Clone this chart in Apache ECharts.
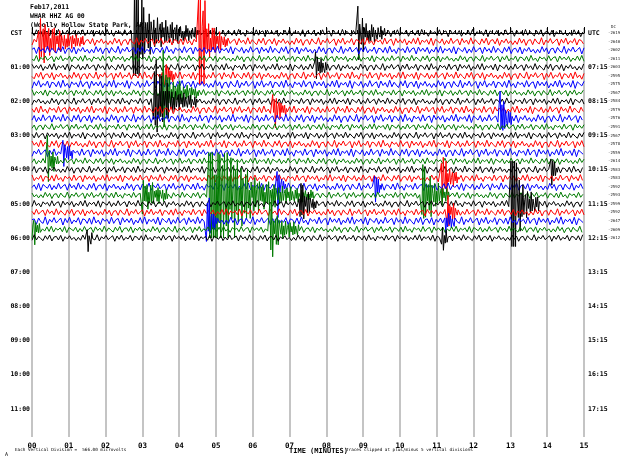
<!DOCTYPE html>
<html>
<head>
<meta charset="utf-8">
<script src="https://cdn.jsdelivr.net/npm/echarts@6/dist/echarts.min.js"></script>
<style>
html, body { margin: 0; padding: 0; background: #fff; }
#main { width: 630px; height: 461px; }
</style>
</head>
<body>
<div id="main"></div>
<script>
// tick labels
var minuteLabels = ['00', '01', '02', '03', '04', '05', '06', '07', '08', '09', '10', '11', '12', '13', '14', '15'];
var cstLabels = ['CST  ', '01:00', '02:00', '03:00', '04:00', '05:00', '06:00', '07:00', '08:00', '09:00', '10:00', '11:00'];
var utcLabels = ['UTC', '07:15', '08:15', '09:15', '10:15', '11:15', '12:15', '13:15', '14:15', '15:15', '16:15', '17:15'];
var levelLabels = ['-2619', '-2640', '-2602', '-2611', '-2603', '-2595', '-2575', '-2567', '-2584', '-2579',
    '-2576', '-2591', '-2567', '-2578', '-2559', '-2614', '-2583', '-2583', '-2592', '-2593',
    '-2599', '-2592', '-2647', '-2609', '-2612'];

// background noise level of each trace (vertical divisions)
var traceNoise = [0.42, 0.45, 0.45, 0.38, 0.42, 0.45, 0.48, 0.38, 0.4, 0.45, 0.48, 0.38, 0.4,
    0.45, 0.48, 0.38, 0.42, 0.42, 0.45, 0.38, 0.4, 0.42, 0.48, 0.38, 0.38];

// hand typed wiggle shape, reused along each trace
var noisePattern = [0.2, -0.7, 0.9, -0.4, 0.6, -1, 0.3, 0.5, -0.8, 0.7, -0.2, -0.6, 1, -0.9, 0.4, -0.3, 0.8, -0.5,
    0.1, 0.7, -1, 0.6, -0.4, 0.9, -0.7, 0.2, -0.3, 0.8, -0.9, 0.5, 0.3, -0.6, 0.7, -0.8, 1, -0.5, 0.2, -0.9,
    0.6, -0.1, 0.4, -0.7, 0.9, -0.6, 0.3, 0.6, -1, 0.8, -0.3, 0.5, -0.4, 0.7, -0.9, 0.2, -0.5, 0.8, -0.6, 1,
    -0.8, 0.4, -0.2, 0.5, -0.7, 0.9, -1, 0.6, 0.1, -0.4, 0.7, -0.8, 0.3, -0.6, 0.9, -0.5, 0.2, 0.6, -0.9, 0.8,
    -0.3, 0.4, -0.7, 1, -0.6, 0.5, -0.2, -0.8, 0.7, -0.4, 0.9, -0.9, 0.3, 0.5, -0.6, 0.8, -1, 0.4, -0.3, 0.7,
    -0.5, 0.2, -0.8];

// events: trace row, start minute, envelope (divisions, one value per 0.1 minute)
var events = [
    [0, 2.72, [40, 12, 5, 3, 2.5, 2.2, 2, 1.8, 1.6, 1.5, 1.4, 1.3, 1.2, 1.1, 1, 0.9, 0.8, 0.7]],
    [0, 8.82, [3.5, 2.2, 1.6, 1.3, 1.1, 0.9, 0.8, 0.7]],
    [1, 0.18, [3, 2.5, 2.2, 1.8, 1.6, 1.4, 1.2, 1.1, 1, 0.9, 0.8, 0.7]],
    [1, 4.52, [40, 6, 3, 2, 1.6, 1.3, 1, 0.8]],
    [7, 3.52, [8, 3, 2, 1.6, 1.4, 1.2, 1, 0.9, 0.8, 0.7]],
    [8, 3.3, [7, 4, 3, 2.4, 2, 1.6, 1.3, 1.1, 1, 0.9, 0.8, 0.7]],
    [4, 7.62, [3, 1.5, 1, 0.8]],
    [5, 3.6, [2.2, 1.2, 0.8]],
    [9, 6.52, [3, 1.5, 1, 0.8]],
    [10, 12.68, [4, 2, 1.2, 0.8]],
    [15, 0.42, [3, 1.2, 0.8]],
    [14, 0.8, [1.8, 1, 0.8]],
    [19, 3.0, [2.2, 1.8, 1.5, 1.2, 1, 0.9, 0.8]],
    [19, 4.75, [40, 40, 12, 8, 7, 6, 5.5, 5, 4.5, 4, 3.5, 3, 2.6, 2.3, 2, 1.8, 1.6, 1.5, 1.4, 1.3, 1.2, 1.1, 1, 0.9, 0.9, 0.8, 0.8, 0.7, 0.7]],
    [18, 6.6, [6, 1.5, 0.8]],
    [20, 7.22, [3, 2.2, 1.5, 1.1, 0.8]],
    [22, 4.72, [3, 1.6, 1]],
    [23, 6.45, [4, 2.5, 1.8, 1.4, 1.1, 1, 0.9, 0.8]],
    [19, 10.55, [4.5, 3.2, 2.5, 2, 1.6, 1.3, 1, 0.8]],
    [17, 11.08, [3.5, 2, 1.4, 1, 0.8]],
    [21, 11.28, [2, 1.2, 0.8]],
    [22, 11.18, [1.8, 1, 0.8]],
    [20, 13.0, [40, 8, 4, 2.5, 1.8, 1.4, 1.1, 0.9]],
    [16, 14.1, [1.8, 1]],
    [24, 11.1, [1.8, 1]],
    [24, 1.45, [1.6, 0.9]],
    [23, 0.0, [1.8, 1]],
    [18, 9.3, [1.8, 1]]
];

var SAMPLE_STEP = 0.06, FINE_STEP = 0.025, EVENT_STEP = 0.1, CLIP = 5;
var traceColors = ['#000000', '#ff0000', '#0000ff', '#007a00'];

// envelope at time t on a trace; 0 when no event is running
function eventLevel(row, t) {
    var amp = 0;
    events.forEach(function (e) {
        if (e[0] !== row) return;
        var k = Math.floor((t - e[1]) / EVENT_STEP);
        if (k >= 0 && k < e[2].length) amp = Math.max(amp, e[2][k]);
    });
    return amp;
}

function buildTrace(row) {
    var pts = [];
    var i = (row * 37) % noisePattern.length;
    var t = 0;
    while (t <= 15.0001) {
        var ev = eventLevel(row, t);
        var amp = Math.max(traceNoise[row], ev);
        var d = amp * noisePattern[i % noisePattern.length];
        d = Math.max(-CLIP, Math.min(CLIP, d));
        pts.push([Math.min(t, 15), row - d]);
        i++;
        t += ev > 0 ? FINE_STEP : SAMPLE_STEP;
    }
    return pts;
}

var series = levelLabels.map(function (lv, row) {
    return {
        type: 'line',
        data: buildTrace(row),
        showSymbol: false,
        symbol: 'none',
        silent: true,
        clip: false,
        lineStyle: {width: 1, color: traceColors[row % 4]},
        z: 3
    };
});

var monoFont = 'DejaVu Sans Mono';
var yMin = -0.59, yMax = 47.3;

var chart = echarts.init(document.getElementById('main'));
chart.setOption({
    animation: false,
    backgroundColor: '#fff',
    grid: {left: 32, right: 46, top: 28, bottom: 24},
    xAxis: {
        type: 'value', min: 0, max: 15, interval: 1,
        axisLine: {lineStyle: {color: '#000', width: 1}},
        axisTick: {inside: true, length: 6, lineStyle: {color: '#000'}},
        minorTick: {show: true, splitNumber: 6, length: 3, lineStyle: {color: '#000'}},
        splitLine: {show: true, lineStyle: {color: '#c4c4c4', width: 2}},
        axisLabel: {
            margin: 5, color: '#000', fontFamily: monoFont, fontWeight: 'bold', fontSize: 7.5,
            formatter: function (v) { return minuteLabels[Math.round(v)]; }
        }
    },
    yAxis: [
        {
            type: 'value', inverse: true, min: yMin, max: yMax, position: 'left',
            axisLine: {show: false}, axisTick: {show: false}, splitLine: {show: false},
            axisLabel: {
                margin: 2, color: '#000', fontFamily: monoFont, fontWeight: 'bold', fontSize: 6.5,
                customValues: cstLabels.map(function (l, i) { return i * 4; }),
                formatter: function (v) { return cstLabels[Math.round(v / 4)]; }
            }
        },
        {
            type: 'value', inverse: true, min: yMin, max: yMax, position: 'right',
            axisLine: {show: false}, axisTick: {show: false}, splitLine: {show: false},
            axisLabel: {
                margin: 4, color: '#000', fontFamily: monoFont, fontWeight: 'bold', fontSize: 6.5,
                customValues: utcLabels.map(function (l, i) { return i * 4; }),
                formatter: function (v) { return utcLabels[Math.round(v / 4)]; }
            }
        },
        {
            type: 'value', inverse: true, min: yMin, max: yMax, position: 'right', offset: 22,
            axisLine: {show: false}, axisTick: {show: false}, splitLine: {show: false},
            axisLabel: {
                margin: 2, color: '#222', fontFamily: monoFont, fontSize: 4,
                customValues: levelLabels.map(function (l, i) { return i; }),
                formatter: function (v) { return levelLabels[Math.round(v)]; }
            }
        }
    ],
    graphic: [
        {type: 'text', left: 30, top: 4, style: {text: 'Feb17,2011', font: 'bold 6.5px ' + monoFont, fill: '#000'}},
        {type: 'text', left: 30, top: 13, style: {text: 'WHAR HHZ AG 00', font: 'bold 6.5px ' + monoFont, fill: '#000'}},
        {type: 'text', left: 30, top: 22, style: {text: '(Woolly Hollow State Park, AR)', font: 'bold 6.5px ' + monoFont, fill: '#000'}},
        {type: 'text', left: 611, top: 25, style: {text: 'DC', font: '4px ' + monoFont, fill: '#222'}},
        {type: 'text', left: 5, top: 452, style: {text: 'A', font: '5px ' + monoFont, fill: '#000'}},
        {type: 'text', left: 15, top: 448, style: {text: 'Each Vertical Division =  566.00 microvolts', font: '4.3px ' + monoFont, fill: '#000'}},
        {type: 'text', left: 289, top: 448, style: {text: 'TIME (MINUTES)', font: 'bold 7px ' + monoFont, fill: '#000'}},
        {type: 'text', left: 346, top: 448, style: {text: 'Traces clipped at plus/minus 5 vertical divisions', font: '4.3px ' + monoFont, fill: '#000'}}
    ],
    series: series
});
</script>
</body>
</html>
